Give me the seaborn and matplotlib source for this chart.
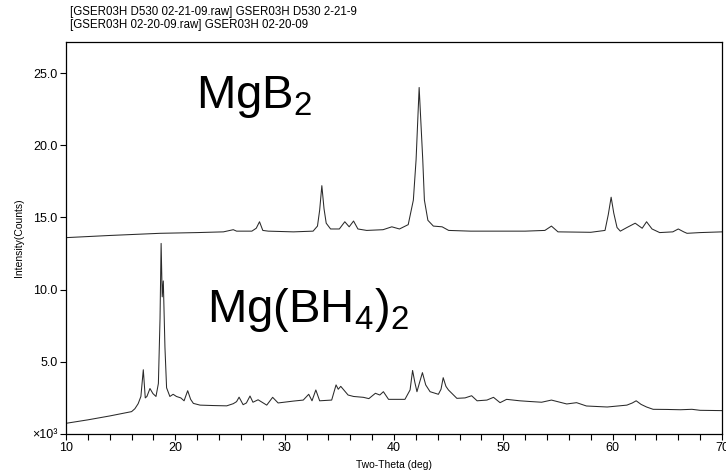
import matplotlib
matplotlib.use("Agg")
import matplotlib.pyplot as plt
import seaborn as sns
import pandas as pd

# MgB2 (upper pattern)
upper_theta = [10, 14, 18.6, 22, 24.4, 25.0, 25.3, 25.6, 27.0, 27.4, 27.7, 28.0, 28.5,
               30.8, 32.6, 33.0, 33.2, 33.4, 33.6, 33.8, 34.2, 35.0, 35.5, 35.9, 36.3,
               36.7, 37.5, 39.0, 39.8, 40.5, 41.3, 41.77, 42.02, 42.3, 42.63, 42.78,
               43.1, 43.6, 44.4, 45, 47, 50, 52, 53.8, 54.4, 55, 58, 59.3, 59.6, 59.86,
               60.1, 60.4, 60.7, 61.3, 62.06, 62.7, 63.1, 63.6, 64.3, 65.5, 66.0, 66.5,
               66.8, 68, 70]
upper_counts = [13.6, 13.75, 13.9, 13.95, 14.0, 14.1, 14.15, 14.05, 14.05, 14.25, 14.7,
                14.1, 14.05, 14.0, 14.05, 14.4, 15.5, 17.2, 15.6, 14.6, 14.2, 14.2, 14.7,
                14.35, 14.75, 14.2, 14.1, 14.15, 14.35, 14.2, 14.5, 16.2, 19.0, 24.0,
                19.0, 16.2, 14.8, 14.4, 14.35, 14.1, 14.05, 14.05, 14.05, 14.1, 14.4,
                14.0, 13.97, 14.1, 15.2, 16.4, 15.3, 14.3, 14.05, 14.3, 14.6, 14.25,
                14.7, 14.2, 13.95, 14.0, 14.2, 14.0, 13.9, 13.95, 14.0]

# Mg(BH4)2 (lower pattern)
lower_theta = [10, 12, 14, 16.0, 16.3, 16.6, 16.85, 17.07, 17.25, 17.4, 17.68, 17.95,
               18.23, 18.45, 18.6, 18.7, 18.8, 18.9, 19.05, 19.2, 19.5, 19.8, 20.1, 20.5,
               20.8, 21.13, 21.4, 21.65, 22.26, 23.5, 24.7, 25.3, 25.6, 25.83, 26.2,
               26.5, 26.83, 27.1, 27.57, 28.36, 28.9, 29.4, 30.8, 31.7, 32.2, 32.5,
               32.85, 33.2, 34.3, 34.7, 34.9, 35.13, 35.8, 36.3, 37.2, 37.7, 38.3, 38.7,
               39.03, 39.5, 41.0, 41.47, 41.7, 41.9, 42.1, 42.35, 42.6, 42.9, 43.3,
               44.06, 44.3, 44.5, 44.75, 44.98, 45.75, 46.5, 47.1, 47.6, 48.5, 49.1,
               49.7, 50.3, 51.5, 52.45, 53.5, 54.4, 55.8, 56.7, 57.6, 59.5, 61.3, 61.8,
               62.15, 62.6, 63.1, 63.7, 65, 66.2, 67.25, 68, 70]
lower_counts = [0.74, 0.98, 1.25, 1.55, 1.75, 2.1, 2.6, 4.45, 2.5, 2.6, 3.15, 2.8,
                2.6, 3.5, 8.0, 13.2, 9.5, 10.6, 6.0, 3.2, 2.6, 2.75, 2.6, 2.5,
                2.3, 3.0, 2.4, 2.12, 2.0, 1.97, 1.95, 2.1, 2.24, 2.55, 2.03,
                2.15, 2.63, 2.2, 2.37, 2.0, 2.54, 2.15, 2.28, 2.35, 2.75, 2.3,
                3.05, 2.3, 2.35, 3.4, 3.1, 3.3, 2.7, 2.6, 2.54, 2.45, 2.82, 2.7,
                2.93, 2.4, 2.4, 3.05, 4.4, 3.6, 2.93, 3.6, 4.25, 3.4, 2.93,
                2.75, 3.1, 3.9, 3.3, 3.05, 2.47, 2.5, 2.65, 2.3, 2.35, 2.54,
                2.17, 2.4, 2.3, 2.25, 2.2, 2.35, 2.08, 2.17, 1.94, 1.87, 2.0, 2.15,
                2.3, 2.05, 1.87, 1.71, 1.7, 1.68, 1.71, 1.64, 1.62]

x_ticks = [10, 20, 30, 40, 50, 60, 70]
y_ticks = [0, 5, 10, 15, 20, 25]
y_tick_labels = ["\u00d710\u00b3", "5.0", "10.0", "15.0", "20.0", "25.0"]
header_lines = ["[GSER03H D530 02-21-09.raw] GSER03H D530 2-21-9",
                "[GSER03H 02-20-09.raw] GSER03H 02-20-09"]

sns.set_theme(style="ticks")
plt.rcParams["font.family"] = ["Liberation Sans", "DejaVu Sans"]
plt.rcParams["mathtext.fontset"] = "custom"
plt.rcParams["mathtext.rm"] = "Liberation Sans"
plt.rcParams["mathtext.it"] = "Liberation Sans"
plt.rcParams["text.color"] = "black"
plt.rcParams["axes.labelcolor"] = "black"
plt.rcParams["xtick.color"] = "black"
plt.rcParams["ytick.color"] = "black"

fig = plt.figure(figsize=(7.26, 4.71), dpi=100)
ax = fig.add_axes([66 / 726, 1 - 434 / 471, (722 - 66) / 726, (434 - 42) / 471])

df = pd.concat([
    pd.DataFrame({"theta": upper_theta, "counts": upper_counts, "sample": "MgB2"}),
    pd.DataFrame({"theta": lower_theta, "counts": lower_counts, "sample": "MgBH42"}),
])
for name in ["MgB2", "MgBH42"]:
    sub = df[df["sample"] == name]
    sns.lineplot(data=sub, x="theta", y="counts", ax=ax, color="#2a2a2a",
                 linewidth=0.75, sort=False, legend=False)

ax.set_xlim(10, 70)
ax.set_ylim(0, 27.15)
ax.set_xticks(x_ticks)
ax.set_xticks(range(10, 71, 2), minor=True)
ax.set_yticks(y_ticks)
ax.set_yticklabels(y_tick_labels)
ax.tick_params(axis="both", which="major", length=4, width=0.8, color="black",
               labelsize=9, pad=2, direction="out", labelcolor="black")
ax.tick_params(axis="x", which="minor", length=4, width=0.8, color="black")
for s in ax.spines.values():
    s.set_color("black")
    s.set_linewidth(0.9)

ax.set_xlabel("Two-Theta (deg)", fontsize=7.5, labelpad=4, color="black")
ax.set_ylabel("Intensity(Counts)", fontsize=7.5, labelpad=6, color="black")

fig.text(70 / 726, 1 - 12 / 471, header_lines[0], fontsize=8.3, va="center", ha="left",
         color="black")
fig.text(70 / 726, 1 - 25 / 471, header_lines[1], fontsize=8.3, va="center", ha="left",
         color="black")

ax.text(21.9, 22.6, "MgB$_2$", fontsize=34, ha="left", va="baseline", color="black")
ax.text(22.9, 7.76, "Mg(BH$_4$)$_2$", fontsize=34, ha="left", va="baseline", color="black")

fig.savefig("out.png", dpi=100)
